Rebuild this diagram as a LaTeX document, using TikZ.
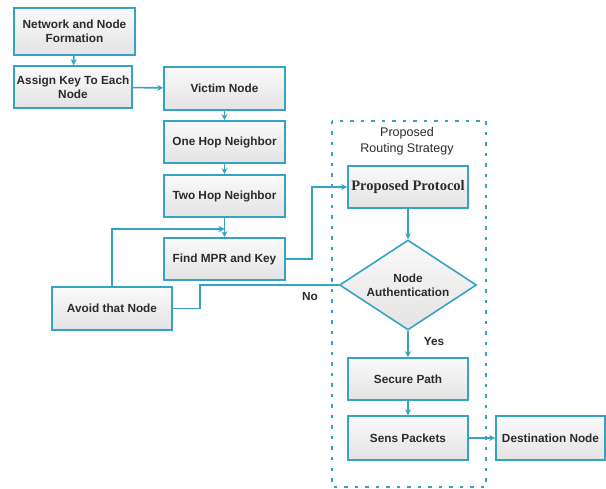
\documentclass[tikz,border=0pt]{standalone}
\usepackage{fontspec}
\setmainfont{Liberation Sans}
\newfontfamily\serifb{Liberation Serif}
\usetikzlibrary{shapes.geometric,arrows.meta}
\definecolor{ln}{HTML}{35A3C4}
\definecolor{tx}{HTML}{2B2B2B}
\tikzset{
  box/.style={draw=ln, line width=1.6pt, rectangle, top color=gray!4, bottom color=gray!22,
    text=tx, font=\fontsize{11.8}{14}\selectfont\bfseries, align=center, inner sep=1pt},
  conn/.style={draw=ln, line width=1.6pt},
  arr/.style={conn, -{Stealth[length=6pt,width=6pt]}},
  lbl/.style={text=tx, font=\fontsize{11.8}{14}\selectfont\bfseries}
}
\begin{document}
\begin{tikzpicture}[x=1pt,y=-1pt]
\useasboundingbox (0,0) rectangle (606,489);
% dashed container
\draw[ln, line width=2.2pt, dash pattern=on 3.5pt off 7pt] (332,121) rectangle (486,487);
\node[text=tx, font=\fontsize{12.5}{16}\selectfont, align=center] (title) at (407,141) {Proposed\\Routing Strategy};
% nodes
\node[box, minimum width=121, minimum height=47] (n1) at (74.5,31.5) {Network and Node\\Formation};
\node[box, minimum width=118, minimum height=42] (n2) at (73,87) {Assign Key To Each\\Node};
\node[box, minimum width=121, minimum height=43] (victim) at (224.5,88.5) {Victim Node};
\node[box, minimum width=121, minimum height=42] (one) at (224.5,142) {One Hop Neighbor};
\node[box, minimum width=121, minimum height=42] (two) at (224.5,196) {Two Hop Neighbor};
\node[box, minimum width=121, minimum height=42] (mpr) at (224.5,259) {Find MPR and Key};
\node[box, minimum width=120, minimum height=43] (avoid) at (112,308.5) {Avoid that Node};
\node[box, minimum width=120, minimum height=42, font=\serifb\fontsize{14.5}{16}\selectfont\bfseries] (proto) at (408,187) {Proposed Protocol};
\node[box, diamond, aspect=1.5, minimum width=137, minimum height=90, inner sep=0pt] (auth) at (408,285) {Node\\Authentication};
\node[box, minimum width=120, minimum height=42] (secure) at (408,379) {Secure Path};
\node[box, minimum width=120, minimum height=44] (sens) at (408,438) {Sens Packets};
\node[box, minimum width=109, minimum height=44] (dest) at (550.5,438) {Destination Node};
% junction points
\coordinate (j) at (224.5,229);
\coordinate (r1) at (312,259);
\coordinate (nob) at (200,308.5);
% connectors
\draw[arr] (n1) -- (n2);
\draw[arr] (n2) -- (victim);
\draw[arr] (victim) -- (one);
\draw[arr] (one) -- (two);
\draw[arr] (two) -- (mpr);
\draw[arr] (avoid.north) |- (j);
\draw[arr] (mpr.east) -- (r1) |- (proto.west);
\draw[arr] (proto) -- (auth);
\draw[conn] (auth.west) -| (nob) -- (avoid.east);
\draw[arr] (auth) -- (secure);
\draw[arr] (secure) -- (sens);
\draw[arr] (sens) -- (dest);
\node[lbl] (no) at (310,296) {No};
\node[lbl] (yes) at (434,341) {Yes};
\end{tikzpicture}
\end{document}
